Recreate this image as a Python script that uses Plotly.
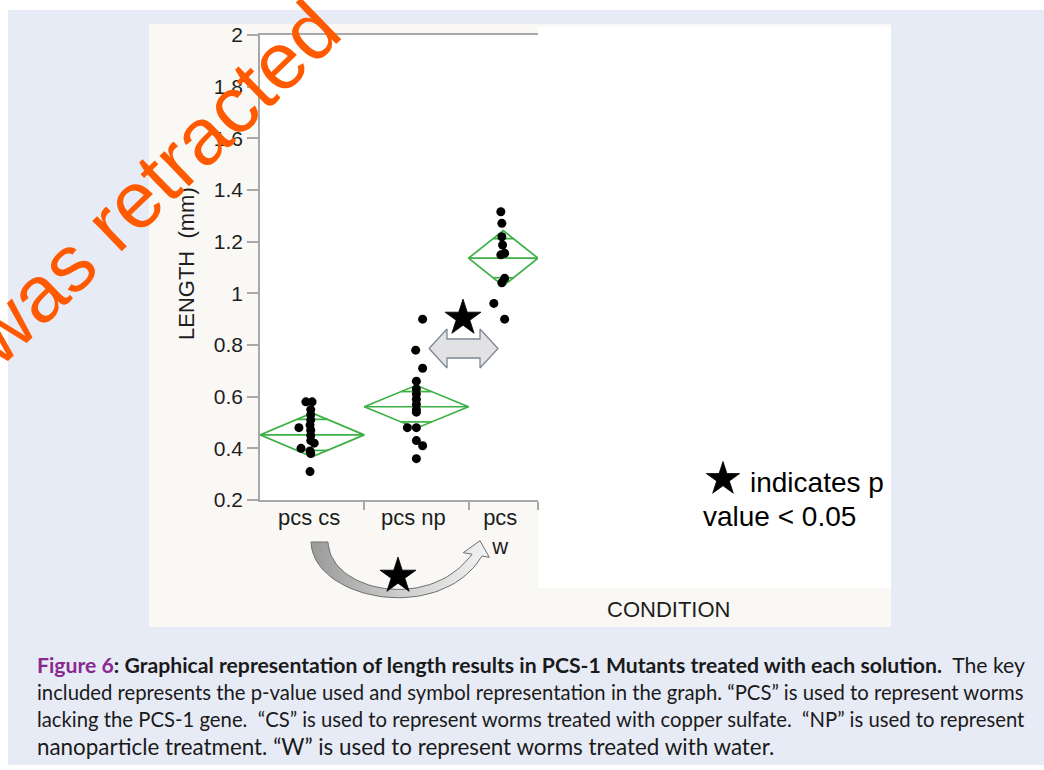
import numpy as np
import plotly.graph_objects as go

W, H = 1044, 770

# ---------------- data ----------------
categories = ["pcs cs", "pcs np", "pcs w"]
category_labels = ["pcs cs", "pcs np", "pcs<br>w"]

pcs_cs = [0.58, 0.58, 0.55, 0.53, 0.51, 0.49, 0.48, 0.47, 0.45, 0.43, 0.42, 0.40, 0.39, 0.38, 0.31]
pcs_cs_jitter = [-0.9, 0.0, -0.2, -0.2, -0.2, -0.3, -1.9, -0.2, -0.2, -0.2, 0.3, -1.6, -0.3, -0.2, -0.3]

pcs_np = [0.90, 0.78, 0.71, 0.66, 0.63, 0.61, 0.59, 0.57, 0.55, 0.54, 0.48, 0.48, 0.43, 0.41, 0.36]
pcs_np_jitter = [0.9, -0.1, 0.9, 0.0, 0.0, 0.0, 0.0, 0.0, 0.0, 0.0, -1.3, 0.0, 0.0, 0.9, 0.0]

pcs_w = [1.316, 1.271, 1.219, 1.187, 1.155, 1.149, 1.058, 1.041, 0.961, 0.900]
pcs_w_jitter = [-0.35, -0.2, -0.2, -0.1, 0.2, -0.35, 0.2, -0.2, -1.35, 0.2]

group_means = [0.452, 0.561, 1.136]
group_ci = [0.085, 0.083, 0.107]

y_ticks = [0.2, 0.4, 0.6, 0.8, 1.0, 1.2, 1.4, 1.6, 1.8, 2.0]

legend_lines = ["indicates p", "value < 0.05"]
caption_lines = [
    "<b><span style='color:#8a2a91'>Figure 6</span>: Graphical representation of length results in PCS-1 Mutants treated with each solution.</b>  The key",
    "included represents the p-value used and symbol representation in the graph. \u201cPCS\u201d is used to represent worms",
    "lacking the PCS-1 gene.\u00a0 \u201cCS\u201d is used to represent worms treated with copper sulfate.\u00a0 \u201cNP\u201d is used to represent",
    "nanoparticle treatment. \u201cW\u201d is used to represent worms treated with water.",
]

# ---------------- helpers ----------------
def fx(px):
    return px / W

def fy(py):
    return 1 - py / H

groups = [pcs_cs, pcs_np, pcs_w]
jitters = [pcs_cs_jitter, pcs_np_jitter, pcs_w_jitter]
n = [len(g) for g in groups]
left = np.concatenate([[0], np.cumsum(n)[:-1]])
centers = left + np.array(n) / 2.0
total = float(np.sum(n))

GREEN = "#3cb044"
fig = go.Figure()

# diamonds (means diamonds with overlap marks)
for i in range(len(groups)):
    L, R, C = left[i], left[i] + n[i], centers[i]
    m, ci = group_means[i], group_ci[i]
    hw = (R - L) / 2.0
    k = 1 / np.sqrt(2)
    ov = hw * (1 - k)
    xs = [L, C, R, C, L, None, L, R, None, C - ov, C + ov, None, C - ov, C + ov]
    ys = [m, m + ci, m, m - ci, m, None, m, m, None, m + ci * k, m + ci * k, None, m - ci * k, m - ci * k]
    fig.add_trace(go.Scatter(x=xs, y=ys, mode="lines", line=dict(color=GREEN, width=1.7),
                             hoverinfo="skip", showlegend=False, xaxis="x", yaxis="y"))

# points
for i in range(len(groups)):
    xs = [centers[i] + j for j in jitters[i]]
    fig.add_trace(go.Scatter(x=xs, y=groups[i], mode="markers",
                             marker=dict(color="black", size=9, opacity=1, line=dict(width=0)),
                             name=categories[i], showlegend=False, xaxis="x", yaxis="y"))

# ---------------- decorations in pixel space (overlay axes x2/y2) ----------------
# double-headed block arrow between pcs np and pcs w
da_x = [429, 447, 447, 480, 480, 498, 480, 480, 447, 447, 429]
da_y = [348.5, 329, 339, 339, 329, 348.5, 368, 358, 358, 368, 348.5]
fig.add_trace(go.Scatter(x=da_x, y=da_y, mode="lines", fill="toself", fillcolor="#e2e2e4",
                         line=dict(color="#7d8694", width=1.3), hoverinfo="skip",
                         showlegend=False, xaxis="x2", yaxis="y2"))

# curved arrow below the axis (pcs cs -> pcs w)
def bez(p0, p1, p2, p3, num=50):
    t = np.linspace(0, 1, num)[:, None]
    p0, p1, p2, p3 = map(np.array, (p0, p1, p2, p3))
    return (1 - t) ** 3 * p0 + 3 * (1 - t) ** 2 * t * p1 + 3 * (1 - t) * t ** 2 * p2 + t ** 3 * p3

outer = bez((311, 542), (313, 600), (440, 625), (482, 556))
inner = bez((328, 542), (330, 592), (430, 612), (472, 554.2))
head = np.array([(489.3, 557.3), (480, 540.7), (463.3, 552.7)])
poly = np.vstack([outer, head, inner[::-1], outer[:1]])
fig.add_trace(go.Scatter(x=poly[:, 0], y=poly[:, 1], mode="lines", fill="toself",
                         fillgradient=dict(type="horizontal",
                                           colorscale=[[0, "#9a9a9a"], [0.5, "#cdcdcd"], [1, "#f3f3f3"]]),
                         line=dict(color="#6f6f6f", width=1.0), hoverinfo="skip",
                         showlegend=False, xaxis="x2", yaxis="y2"))

# significance stars
fig.add_trace(go.Scatter(x=[463, 398, 723], y=[318, 576, 479], mode="markers", opacity=1,
                         marker=dict(symbol="star", size=[27, 27, 25], color="#000000", opacity=1,
                                     line=dict(width=0.8, color="#000000")),
                         hoverinfo="skip", showlegend=False, xaxis="x2", yaxis="y2"))

# ---------------- background panels ----------------
shapes = [
    dict(type="rect", xref="paper", yref="paper", x0=fx(8), x1=1, y0=fy(765), y1=fy(10),
         fillcolor="#e7ebf6", line=dict(width=0), layer="below"),
    dict(type="rect", xref="paper", yref="paper", x0=fx(149), x1=fx(891), y0=fy(627), y1=fy(24),
         fillcolor="#f9f8f5", line=dict(width=0), layer="below"),
    dict(type="rect", xref="paper", yref="paper", x0=fx(260), x1=fx(538), y0=fy(500), y1=fy(34),
         fillcolor="white", line=dict(width=0), layer="below"),
    dict(type="rect", xref="paper", yref="paper", x0=fx(538), x1=fx(891), y0=fy(588), y1=fy(27),
         fillcolor="white", line=dict(width=0), layer="below"),
]

AX_FONT = "Liberation Sans, Arial, Helvetica, sans-serif"
TXT = "#1e1e1e"

annotations = [
    dict(text="LENGTH\u00a0\u00a0(mm)", x=fx(186), y=fy(264), xref="paper", yref="paper",
         textangle=-90, showarrow=False, font=dict(family=AX_FONT, size=22, color=TXT),
         xanchor="center", yanchor="middle"),
    dict(text="CONDITION", x=fx(668), y=fy(609), xref="paper", yref="paper", showarrow=False,
         font=dict(family=AX_FONT, size=22, color=TXT), xanchor="center", yanchor="middle"),
    dict(text=legend_lines[0], x=fx(748), y=fy(482), xref="paper", yref="paper", showarrow=False,
         font=dict(family=AX_FONT, size=28, color="black"), xanchor="left", yanchor="middle"),
    dict(text=legend_lines[1], x=fx(701), y=fy(516), xref="paper", yref="paper", showarrow=False,
         font=dict(family=AX_FONT, size=28, color="black"), xanchor="left", yanchor="middle"),
]

cap_y = [665, 692, 719, 746]
cap_size = [21.2, 20.3, 20.3, 22.4]
for line, yy, sz in zip(caption_lines, cap_y, cap_size):
    annotations.append(dict(text=line, x=fx(35), y=fy(yy), xref="paper", yref="paper",
                            showarrow=False, xanchor="left", yanchor="middle", align="left",
                            font=dict(family="Lato, Open Sans, sans-serif", size=sz, color="#1a1a1a")))

# watermark
annotations.append(dict(text="was retracted", x=fx(152), y=fy(183), xref="paper", yref="paper",
                        showarrow=False, textangle=-44, xanchor="center", yanchor="middle",
                        font=dict(family=AX_FONT, size=80, color="#ff5a00")))

fig.update_layout(
    template="none",
    width=W, height=H,
    margin=dict(l=0, r=0, t=0, b=0, pad=0, autoexpand=False),
    paper_bgcolor="white",
    plot_bgcolor="rgba(0,0,0,0)",
    shapes=shapes,
    annotations=annotations,
    showlegend=False,
    xaxis=dict(domain=[fx(260), fx(538)], range=[0, total], anchor="y", automargin=False,
               showgrid=False, zeroline=False, showline=True, mirror=True,
               linecolor="#a8a8a8", linewidth=1.5,
               tickmode="array", tickvals=list(centers), ticktext=category_labels,
               ticks="", tickfont=dict(family=AX_FONT, size=22, color=TXT),
               ticklabelstandoff=-3, ticklabelshift=-3,
               minor=dict(tickmode="array", tickvals=list(np.cumsum(n)), ticks="outside",
                          ticklen=8, tickcolor="#a8a8a8", tickwidth=1.5, showgrid=False),
               fixedrange=True),
    yaxis=dict(domain=[fy(500), fy(35)], range=[0.2, 2.0], anchor="x", automargin=False,
               showgrid=False, zeroline=False, showline=True, mirror=False,
               linecolor="#a8a8a8", linewidth=1.5,
               tickmode="array", tickvals=y_ticks, ticks="outside", ticklen=11,
               tickcolor="#a8a8a8", tickwidth=1.5,
               tickfont=dict(family=AX_FONT, size=21, color=TXT), fixedrange=True),
    xaxis2=dict(domain=[0, 1], range=[0, W], anchor="y2", visible=False, fixedrange=True,
                automargin=False),
    yaxis2=dict(domain=[0, 1], range=[H, 0], anchor="x2", visible=False, fixedrange=True,
                automargin=False),
)

fig.write_html("out.html", config={"displayModeBar": False},
               post_script="document.body.style.margin='0';")
